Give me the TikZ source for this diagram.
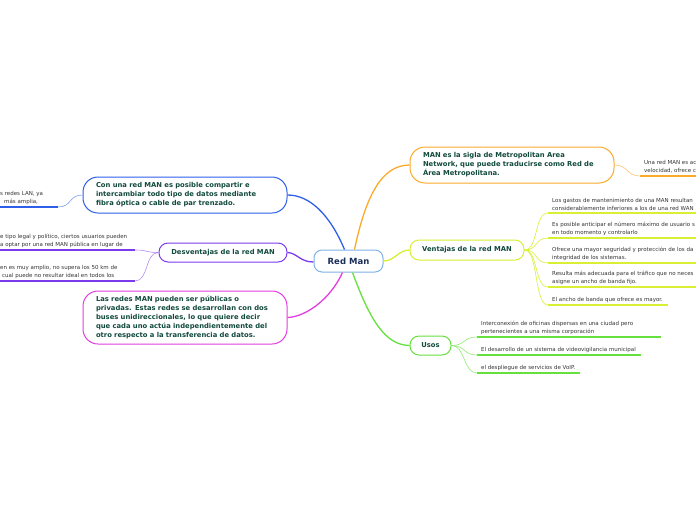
\documentclass[tikz,border=0pt]{standalone}
\usepackage{fontspec}
\setmainfont{DejaVu Sans}
\usetikzlibrary{calc}

\begin{document}
\begin{tikzpicture}[x=1pt, y=-1pt,
    topic/.style={draw, line width=1pt, rounded corners=15pt, fill=white, text=textColour,
        font=\fontsize{6.8}{9}\selectfont\bfseries, align=left, inner xsep=13pt, inner ysep=3pt},
    smalltopic/.style={topic, rounded corners=9pt, align=center, inner xsep=4pt},
    leaf/.style={text=leafColour, font=\fontsize{5.5}{7.8}\selectfont, align=left,
        inner xsep=4pt, inner ysep=2.5pt, anchor=south west},
    branch/.style={line width=1.3pt},
    twig/.style={line width=0.6pt},
    underline/.style={line width=2pt}]

    % Define colours
    \definecolor{centreColour}{HTML}{7FB2E5}
    \definecolor{navyColour}{HTML}{1B2F5A}
    \definecolor{textColour}{HTML}{124A3C}
    \definecolor{leafColour}{HTML}{333333}
    \definecolor{orangeColour}{HTML}{FBAA2A}
    \definecolor{limeColour}{HTML}{D8EF34}
    \definecolor{greenColour}{HTML}{66E03C}
    \definecolor{blueColour}{HTML}{2F5FE8}
    \definecolor{purpleColour}{HTML}{7C3AED}
    \definecolor{magentaColour}{HTML}{E43DE0}

    % Page size
    \useasboundingbox (0,0) rectangle (696,520);

    % Central topic
    \node[draw=centreColour, line width=1pt, rounded corners=8pt, fill=white, text=navyColour,
        font=\fontsize{8.5}{10}\selectfont\bfseries, minimum width=69pt, minimum height=22pt]
        (redman) at (348.5,261) {Red Man};

    % Main topics
    \node[topic, draw=orangeColour, text width=178pt, minimum height=36pt] (sigla) at (512,165)
        {MAN es la sigla de Metropolitan Area\\Network, que puede traducirse como Red de\\Área Metropolitana.};
    \node[smalltopic, draw=limeColour, minimum width=114pt, minimum height=20pt] (ventajas) at (467,250)
        {Ventajas de la red MAN};
    \node[smalltopic, draw=greenColour, minimum width=41pt, minimum height=19pt] (usos) at (430.5,345.5)
        {Usos};
    \node[topic, draw=blueColour, text width=178pt, minimum height=36pt] (compartir) at (185,195)
        {Con una red MAN es posible compartir e\\intercambiar todo tipo de datos mediante\\fibra óptica o cable de par trenzado.};
    \node[smalltopic, draw=purpleColour, minimum width=128pt, minimum height=19pt] (desventajas) at (223,252.5)
        {Desventajas de la red MAN};
    \node[topic, draw=magentaColour, text width=178pt, minimum height=53pt] (publicas) at (185,317.5)
        {Las redes MAN pueden ser públicas o\\privadas. Estas redes se desarrollan con dos\\buses unidireccionales, lo que quiere decir\\que cada uno actúa independientemente del\\otro respecto a la transferencia de datos.};

    % Branches from the central topic
    \draw[branch, orangeColour] ($(redman.north)+(6,0)$) .. controls (365,200) and (380,165) .. (sigla.west);
    \draw[branch, limeColour] (redman.east) .. controls (395,261) and (398,250) .. (ventajas.west);
    \draw[branch, greenColour] ($(redman.south)+(4,0)$) .. controls (370,320) and (385,345) .. (usos.west);
    \draw[branch, blueColour] ($(redman.north)+(-4,0)$) .. controls (330,215) and (310,195) .. (compartir.east);
    \draw[branch, purpleColour] ($(redman.west)+(0,1)$) .. controls (300,262) and (297,253) .. (desventajas.east);
    \draw[branch, magentaColour] ($(redman.south)+(-6,0)$) .. controls (330,300) and (305,317) .. (publicas.east);

    % Leaf of the orange topic
    \node[leaf] (sigla1) at (640,176) {Una red MAN es ac\\velocidad, ofrece c};
    \draw[underline, orangeColour] (sigla1.south west) -- ++(60,0);
    \draw[twig, orangeColour!70] (sigla.east) .. controls +(14,0) and +(-14,0) .. (sigla1.south west);

    % Leaves of the advantages
    \foreach \n/\y/\len/\txt in {
        vent1/213/160/{Los gastos de mantenimiento de una MAN resultan\\considerablemente inferiores a los de una red WAN},
        vent2/238/160/{Es posible anticipar el número máximo de usuario s\\en todo momento y controlarlo},
        vent3/263/160/{Ofrece una mayor seguridad y protección de los da\\integridad de los sistemas.},
        vent4/287/160/{Resulta más adecuada para el tráfico que no neces\\asigne un ancho de banda fijo.},
        vent5/305/120/{El ancho de banda que ofrece es mayor.}} {
        \node[leaf] (\n) at (548,\y) {\txt};
        \draw[underline, limeColour] (\n.south west) -- ++(\len,0);
        \draw[twig, limeColour] (ventajas.east) .. controls +(14,0) and +(-14,0) .. (\n.south west);
    }

    % Leaves of the uses
    \foreach \n/\y/\len/\txt in {
        uso1/337/184/{Interconexión de oficinas dispersas en una ciudad pero\\pertenecientes a una misma corporación},
        uso2/355/164/{El desarrollo de un sistema de videovigilancia municipal},
        uso3/373/103/{el despliegue de servicios de VoIP.}} {
        \node[leaf] (\n) at (477,\y) {\txt};
        \draw[underline, greenColour] (\n.south west) -- ++(\len,0);
        \draw[twig, greenColour!70] (usos.east) .. controls +(14,0) and +(-14,0) .. (\n.south west);
    }

    % Leaf of the blue topic
    \node[leaf] (comp1) at (-4,207) {s redes LAN, ya\\\hspace*{4pt}más amplia,};
    \coordinate (comp1end) at (58,207);
    \draw[underline, blueColour] (comp1.south west) -- (comp1end);
    \draw[twig, blueColour!60] (comp1end) .. controls +(14,0) and +(-14,0) .. (compartir.west);

    % Leaves of the disadvantages
    \node[leaf] (desv1) at (-4,250)
        {e tipo legal y político, ciertos usuarios pueden\\a optar por una red MAN pública en lugar de};
    \node[leaf] (desv2) at (-4,281)
        {en es muy amplio, no supera los 50 km de\\\hspace*{2pt}cual puede no resultar ideal en todos los};
    \foreach \d in {desv1,desv2} {
        \coordinate (\d end) at ($(\d.south west)+(139,0)$);
        \draw[underline, purpleColour] (\d.south west) -- (\d end);
        \draw[twig, purpleColour!60] (\d end) .. controls +(14,0) and +(-14,0) .. (desventajas.west);
    }

\end{tikzpicture}
\end{document}
